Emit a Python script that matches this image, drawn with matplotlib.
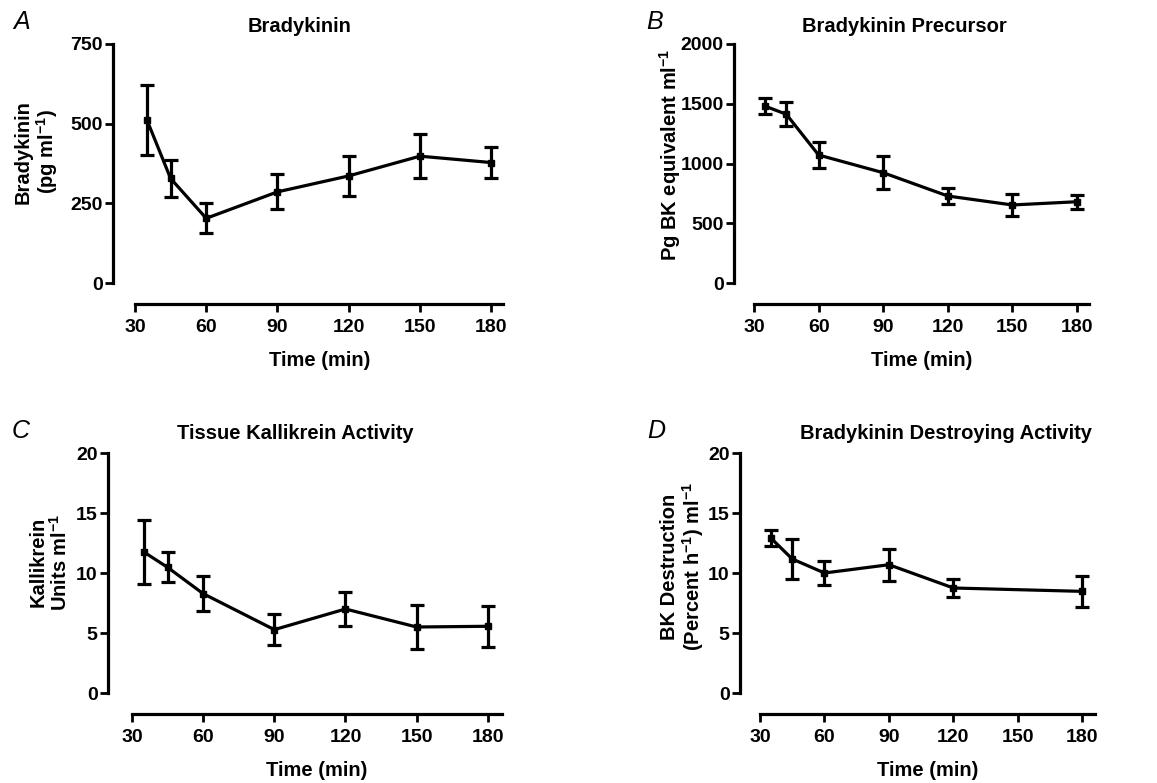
import matplotlib
matplotlib.use('Agg')
import matplotlib.pyplot as plt

W, H = 1157, 783

minutes = [30, 60, 90, 120, 150, 180]

time_abc = [35, 45, 60, 90, 120, 150, 180]
bradykinin = [512, 328, 203, 286, 336, 398, 378]
bradykinin_err = [110, 57, 47, 55, 63, 70, 48]

precursor = [1481, 1412, 1071, 923, 728, 653, 680]
precursor_err = [70, 100, 105, 140, 65, 95, 60]

kallikrein = [11.75, 10.47, 8.28, 5.28, 7.0, 5.5, 5.56]
kallikrein_err = [2.7, 1.25, 1.45, 1.3, 1.45, 1.85, 1.7]

time_d = [35, 45, 60, 90, 120, 180]
destruction = [12.92, 11.17, 10.0, 10.69, 8.75, 8.47]
destruction_err = [0.65, 1.65, 0.97, 1.35, 0.77, 1.28]

plt.rcParams['font.family'] = ['Liberation Sans', 'DejaVu Sans']
plt.rcParams['font.weight'] = 'bold'
plt.rcParams['mathtext.fontset'] = 'custom'
plt.rcParams['mathtext.rm'] = 'Liberation Sans:bold'
plt.rcParams['mathtext.default'] = 'rm'


def px(x, y):
    return x / W, 1 - y / H


def pt(p):
    return p * 72 / 100


def panel(fig, box, xmax, ylim, yticks, x, y, err, yout, xout):
    left, top, right, bottom = box
    ax = fig.add_axes([left / W, 1 - bottom / H, (right - left) / W, (bottom - top) / H])
    ax.errorbar(x, y, yerr=err, color='black', lw=2.3, elinewidth=2.3,
                capsize=5, capthick=2.3, marker='s', ms=5, clip_on=False)
    ax.set_xlim(30, xmax)
    ax.set_ylim(*ylim)
    ax.set_xticks(minutes)
    ax.set_yticks(yticks)
    for s in ['top', 'right']:
        ax.spines[s].set_visible(False)
    ax.spines['left'].set_position(('outward', pt(yout)))
    ax.spines['bottom'].set_position(('outward', pt(xout)))
    for s in ['left', 'bottom']:
        ax.spines[s].set_linewidth(2.3)
    ax.tick_params(width=2.0, length=5.5, labelsize=14)
    ax.tick_params(axis='x', pad=5)
    ax.tick_params(axis='y', pad=2)
    for lab in ax.get_xticklabels() + ax.get_yticklabels():
        lab.set_fontweight('bold')
    return ax


fig = plt.figure(figsize=(W / 100, H / 100), dpi=100)

panel(fig, (135, 44, 503, 283), 185, (0, 750), [0, 250, 500, 750],
      time_abc, bradykinin, bradykinin_err, 22, 21)
panel(fig, (754, 44, 1089, 283), 185.6, (0, 2000), [0, 500, 1000, 1500, 2000],
      time_abc, precursor, precursor_err, 20, 21)
panel(fig, (132, 453, 502, 693), 186, (0, 20), [0, 5, 10, 15, 20],
      time_abc, kallikrein, kallikrein_err, 24, 21)
panel(fig, (760, 453, 1095, 693), 185.9, (0, 20), [0, 5, 10, 15, 20],
      time_d, destruction, destruction_err, 20, 21)

titles = [('Bradykinin', 300, 26), ('Bradykinin Precursor', 904, 26),
          ('Tissue Kallikrein Activity', 295, 433),
          ('Bradykinin Destroying Activity', 946, 433)]
for t, x, y in titles:
    fig.text(*px(x, y), t, ha='center', va='center', fontsize=14.5, fontweight='bold')

letters = [('A', 22, 22), ('B', 655, 22), ('C', 21, 431), ('D', 656, 431)]
for t, x, y in letters:
    fig.text(*px(x, y), t, ha='center', va='center', fontsize=18,
             fontweight='normal', style='italic')

for x, y in [(320, 360), (922, 360), (317, 770), (928, 770)]:
    fig.text(*px(x, y), 'Time (min)', ha='center', va='center', fontsize=14.5, fontweight='bold')

ylabels = [('Bradykinin\n(pg ml$^{-1}$)', 37, 152),
           ('Pg BK equivalent ml$^{-1}$', 670, 155),
           ('Kallikrein\nUnits ml$^{-1}$', 50, 562),
           ('BK Destruction\n(Percent h$^{-1}$) ml$^{-1}$', 683, 567)]
for t, x, y in ylabels:
    fig.text(*px(x, y), t, ha='center', va='center', rotation=90, fontsize=14.5,
             fontweight='bold', multialignment='center', linespacing=1.05)

fig.savefig('out.png', dpi=100)
